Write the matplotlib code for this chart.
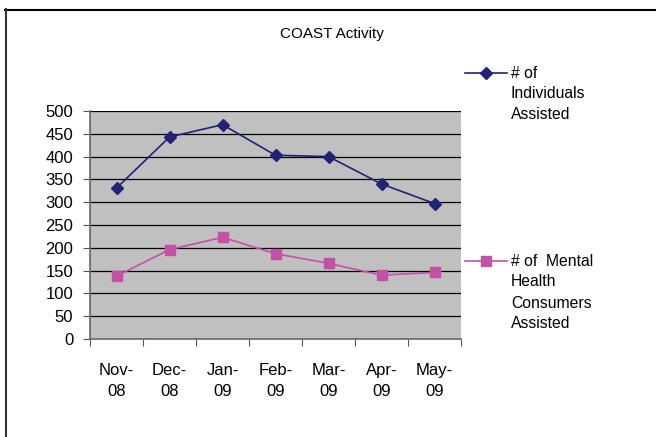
import matplotlib
matplotlib.use("Agg")
import matplotlib.pyplot as plt
from matplotlib.lines import Line2D

plt.rcParams['font.family'] = ['Liberation Sans', 'DejaVu Sans']

months = ["Nov-\n08", "Dec-\n08", "Jan-\n09", "Feb-\n09", "Mar-\n09", "Apr-\n09", "May-\n09"]
individuals = [331, 443, 470, 403, 400, 340, 297]
mh_consumers = [138, 196, 223, 187, 166, 140, 146]
yticks = [0, 50, 100, 150, 200, 250, 300, 350, 400, 450, 500]

W, H = 656, 437
fig = plt.figure(figsize=(W / 100, H / 100), dpi=100)
fig.patch.set_facecolor('white')

# plot area in pixels
L, R, T, B = 90, 461, 111, 339
ax = fig.add_axes([L / W, 1 - B / H, (R - L) / W, (B - T) / H])
ax.set_facecolor('#C0C0C0')

x = list(range(len(months)))
blue = '#222277'
pink = '#C451A5'
ax.plot(x, individuals, color=blue, lw=1.2, marker='D', ms=6.5, mec=blue, mfc=blue, zorder=3)
ax.plot(x, mh_consumers, color=pink, lw=1.2, marker='s', ms=6.5, mec=pink, mfc=pink, zorder=3)

ax.set_xlim(-0.5, len(months) - 0.5)
ax.set_ylim(0, 500)
ax.set_yticks(yticks)
ax.set_yticklabels([str(v) for v in yticks], fontsize=12)
for v in yticks[1:]:
    ax.axhline(v, color='black', lw=0.9, zorder=1)

ax.set_xticks([i + 0.5 for i in range(-1, len(months))], minor=False)
ax.set_xticklabels([])
ax.set_xticks(x, minor=True)
ax.set_xticklabels(months, minor=True, fontsize=12, linespacing=1.55)
ax.tick_params(axis='x', which='minor', length=0, pad=17)
ax.tick_params(axis='x', which='major', length=5, direction='out', color='#555555')
ax.tick_params(axis='y', length=5, direction='out', color='#555555', pad=7)

for s in ['top', 'right']:
    ax.spines[s].set_visible(False)
for s in ['left', 'bottom']:
    ax.spines[s].set_color('#666666')
    ax.spines[s].set_linewidth(1.2)

fig.text(332 / W, 1 - 34 / H, "COAST Activity", ha='center', va='center', fontsize=11)

# legend
def legend_entry(ypix, color, marker, lines):
    fig.add_artist(Line2D([465 / W, 507 / W], [1 - ypix / H] * 2, color=color, lw=1.2,
                          transform=fig.transFigure))
    fig.add_artist(Line2D([486 / W], [1 - ypix / H], color=color, marker=marker, ms=6.5,
                          mec=color, mfc=color, transform=fig.transFigure))
    for i, t in enumerate(lines):
        fig.text(511 / W, 1 - (ypix + 21 * i) / H, t, ha='left', va='center', fontsize=11.3)

legend_entry(73, blue, 'D', ["# of", "Individuals", "Assisted"])
legend_entry(261, pink, 's', ["# of  Mental", "Health", "Consumers", "Assisted"])

# outer frame (top and left visible)
fig.add_artist(Line2D([5 / W, 1.0], [1 - 9.5 / H] * 2, color='black', lw=1.5, transform=fig.transFigure))
fig.add_artist(Line2D([5.5 / W] * 2, [1 - 9 / H, 0], color='#333333', lw=1.5, transform=fig.transFigure))

fig.savefig('out.png', dpi=100)
